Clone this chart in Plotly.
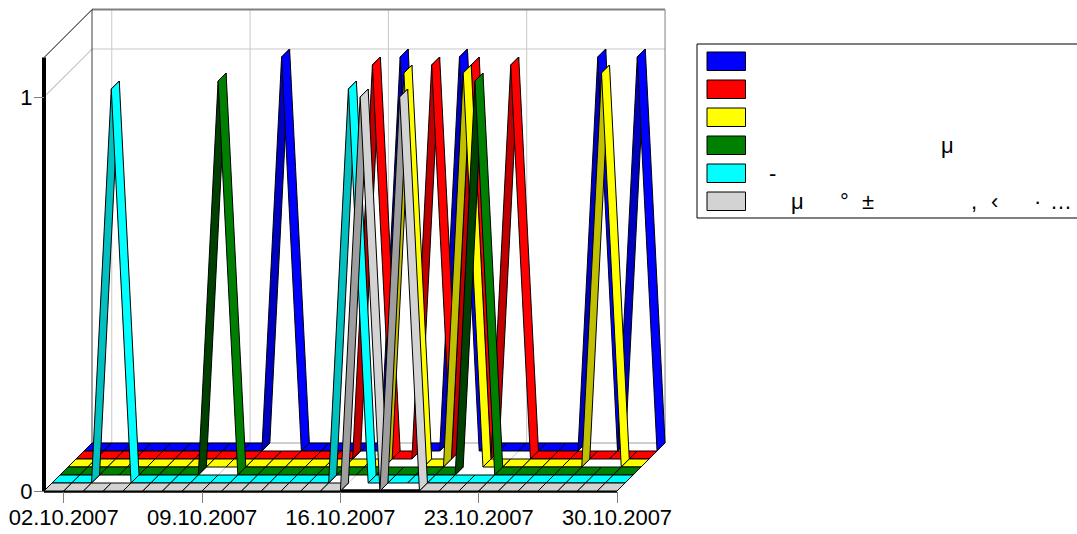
import plotly.graph_objects as go

# ---- data -------------------------------------------------------------
dates = ["%02d.10.2007" % d for d in range(1, 31)]
tick_labels = ["02.10.2007", "09.10.2007", "16.10.2007", "23.10.2007", "30.10.2007"]
y_ticks = [0, 1]
y_max = 1.1

blue   = [0,0,0,0,0,0,0,0,0,0,1,0,0,0,0,0,1,0,0,1,0,0,0,0,0,0,1,0,1,0]
red    = [0,0,0,0,0,0,0,0,0,0,0,0,0,0,0,1,0,0,1,0,1,0,1,0,0,0,0,0,0,0]
yellow = [0,0,0,0,0,0,0,0,0,0,0,0,0,0,0,0,0,1,0,0,1,0,0,0,0,0,0,1,0,0]
green  = [0,0,0,0,0,0,0,0,1,0,0,0,0,0,0,0,0,0,0,0,0,1,0,0,0,0,0,0,0,0]
cyan   = [0,0,0,1,0,0,0,0,0,0,0,0,0,0,0,1,0,0,0,0,0,0,0,0,0,0,0,0,0,0]
grey   = [0,0,0,0,0,0,0,0,0,0,0,0,0,0,0,0,1,0,1,0,0,0,0,0,0,0,0,0,0,0]

# back to front
series = [blue, red, yellow, green, cyan, grey]
face_colors = ["#0000ff", "#ff0000", "#ffff00", "#008000", "#00ffff", "#d3d3d3"]
dark_colors = ["#0000c0", "#c00000", "#c0c000", "#004000", "#00c0c0", "#9e9e9e"]
legend_chars = [
    [], [], [],
    [("μ", 947)],
    [("-", 772)],
    [("μ", 797), ("°", 844), ("±", 868), (",", 974), ("‹", 994), ("·", 1037), ("…", 1061)],
]

# ---- page geometry ----------------------------------------------------
W, H = 1077, 534
X0, Y0 = 44.0, 491.0      # pixel of first category / value 0
PL, PB = 36.0, 500.0      # plot-area left and bottom, a little outside the axes
DAY_PX, UNIT_PX = 19.76, 394.0
DEPTH_PX = 8.0
DX, DY = DEPTH_PX / DAY_PX, DEPTH_PX / UNIT_PX
N_DEPTH = len(series)


def proj(i, v, depth):
    """oblique projection of (category, value, depth) to axis units"""
    return i + depth * DX, v + depth * DY


def px(p):
    return (p - PL) / (W - PL)


def py(p):
    return (PB - p) / PB


fig = go.Figure()


def line(pts, color, width):
    fig.add_trace(go.Scatter(
        x=[p[0] for p in pts], y=[p[1] for p in pts], mode="lines",
        line=dict(color=color, width=width), hoverinfo="skip",
        showlegend=False, cliponaxis=False))


n = len(dates)
last = n - 1
tick_idx = [dates.index(t) for t in tick_labels]

# walls, gridlines
wall = "#c8c8c8"
for t in tick_idx[:-1]:
    line([proj(t, 0, 0), proj(t, 0, N_DEPTH), proj(t, y_max, N_DEPTH)], wall, 1)
line([proj(0, 1, 0), proj(0, 1, N_DEPTH), proj(last, 1, N_DEPTH)], wall, 1.2)
line([proj(0, 0, N_DEPTH), proj(last, 0, N_DEPTH)], "#a0a0a0", 1)
line([proj(last, 0, N_DEPTH), proj(last, y_max, N_DEPTH)], "#808080", 1)
line([proj(0, y_max, N_DEPTH), proj(last, y_max, N_DEPTH)], "#808080", 2)
line([proj(0, 0, N_DEPTH), proj(0, y_max, N_DEPTH)], "#404040", 1)
line([proj(0, y_max, 0), proj(0, y_max, N_DEPTH)], "#000000", 1)
# axis lines
line([proj(0, 0, 0), proj(last, 0, 0)], "#000000", 3.5)
line([proj(0, 0, 0), proj(0, y_max, 0)], "#000000", 4)

# ribbons
for k, values in enumerate(series):
    d = N_DEPTH - 1 - k
    for i in range(n - 1):
        v0, v1 = values[i], values[i + 1]
        pts = [proj(i, v0, d), proj(i + 1, v1, d), proj(i + 1, v1, d + 1),
               proj(i, v0, d + 1), proj(i, v0, d)]
        fig.add_trace(go.Scatter(
            x=[p[0] for p in pts], y=[p[1] for p in pts], mode="lines",
            fill="toself",
            fillcolor=dark_colors[k] if v1 > v0 else face_colors[k],
            line=dict(color="#000000", width=1),
            hoverinfo="skip", showlegend=False, cliponaxis=False))

# ---- legend -----------------------------------------------------------
shapes = [dict(type="rect", xref="paper", yref="paper", x0=px(697), x1=px(1090),
               y0=py(44), y1=py(218), line=dict(color="#000000", width=1),
               fillcolor="#ffffff")]
annotations = []
for k in range(len(series)):
    top = 52 + 28 * k
    shapes.append(dict(type="rect", xref="paper", yref="paper", x0=px(707), x1=px(745.5),
                       y0=py(top), y1=py(top + 18.5),
                       line=dict(color="#000000", width=1), fillcolor=face_colors[k]))
    for ch, x in legend_chars[k]:
        annotations.append(dict(text=ch, xref="paper", yref="paper", x=px(x), y=py(top + 9),
                                xanchor="center", yanchor="middle", showarrow=False,
                                font=dict(family="Liberation Sans", size=22, color="#000000")))

fig.update_layout(
    width=W, height=H, margin=dict(l=PL, r=0, t=0, b=H - PB),
    paper_bgcolor="#ffffff", plot_bgcolor="#ffffff",
    showlegend=False, shapes=shapes, annotations=annotations,
    font=dict(family="Liberation Sans", size=22, color="#000000"),
    xaxis=dict(range=[(PL - X0) / DAY_PX, (W - X0) / DAY_PX], showgrid=False, zeroline=False,
               showline=False, anchor="free", position=py(Y0),
               tickmode="array", tickvals=tick_idx, ticktext=tick_labels,
               ticks="outside", ticklen=11, tickcolor="#808080", tickwidth=1,
               ticklabelstandoff=-4),
    yaxis=dict(range=[(Y0 - PB) / UNIT_PX, Y0 / UNIT_PX], showgrid=False, zeroline=False,
               showline=False, anchor="free", position=px(X0),
               tickmode="array", tickvals=y_ticks, ticktext=[str(v) for v in y_ticks],
               ticks="outside", ticklen=10, tickcolor="#808080", tickwidth=1,
               ticklabelstandoff=-3),
)
fig.write_html("out.html", post_script="document.body.style.margin='0';",
               config=dict(displayModeBar=False))
